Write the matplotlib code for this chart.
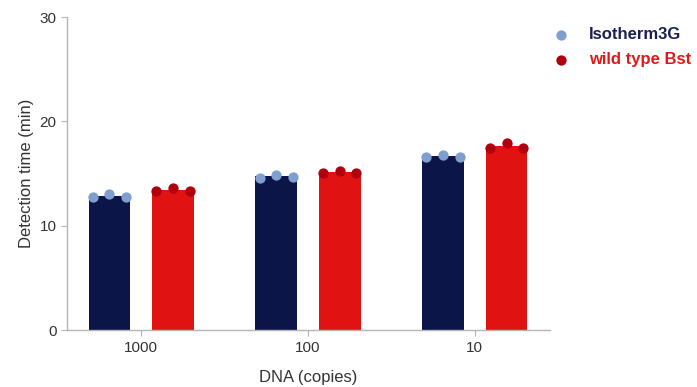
import numpy as np
import matplotlib.pyplot as plt

plt.rcParams['font.family'] = ['Liberation Sans', 'DejaVu Sans']

copies = ["1000", "100", "10"]
iso_pts = [[12.8, 13.0, 12.8], [14.6, 14.9, 14.7], [16.6, 16.8, 16.6]]
wt_pts = [[13.3, 13.6, 13.3], [15.05, 15.25, 15.05], [17.45, 17.9, 17.45]]
series = ["Isotherm3G", "wild type Bst"]

bar_cols = ["#0c1547", "#e11212"]
pt_cols = ["#7f9fd0", "#b0000e"]
txt_cols = ["#1a2150", "#e01a1a"]

fig = plt.figure(figsize=(6.97, 3.87), dpi=100)
ax = fig.add_axes([0.096, 0.147, 0.693, 0.809])

x = np.arange(len(copies))
w = 0.25
off = 0.19
handles = []
for k, pts in enumerate([iso_pts, wt_pts]):
    pts = np.array(pts)
    means = pts.mean(axis=1)
    xs = x + (off if k else -off)
    ax.bar(xs, means, width=w, color=bar_cols[k], zorder=2)
    for i in range(len(copies)):
        h = ax.scatter(xs[i] + np.array([-0.1, 0, 0.1]), pts[i], s=55,
                       color=pt_cols[k], zorder=3, linewidths=0)
    handles.append(h)

ax.set_xlim(-0.445, 2.45)
ax.set_ylim(0, 30)
ax.set_yticks([0, 10, 20, 30])
ax.set_xticks(x)
ax.set_xticklabels(copies)
for s in ["top", "right"]:
    ax.spines[s].set_visible(False)
for s in ["left", "bottom"]:
    ax.spines[s].set_color("#b5b5b5")
    ax.spines[s].set_linewidth(1.0)
ax.tick_params(colors="#b5b5b5", labelcolor="#333333", labelsize=11, length=4)
ax.set_xlabel("DNA (copies)", fontsize=12, color="#333333", labelpad=11)
ax.set_ylabel("Detection time (min)", fontsize=12, color="#333333", labelpad=4)

leg = ax.legend(handles, series, loc="upper left", bbox_to_anchor=(0.985, 1.0),
                frameon=False, handletextpad=1.2, labelspacing=0.6,
                handlelength=1.0, borderaxespad=0.2,
                prop={"weight": "bold", "size": 12})
for t, c in zip(leg.get_texts(), txt_cols):
    t.set_color(c)

plt.savefig("out.png", dpi=100)
